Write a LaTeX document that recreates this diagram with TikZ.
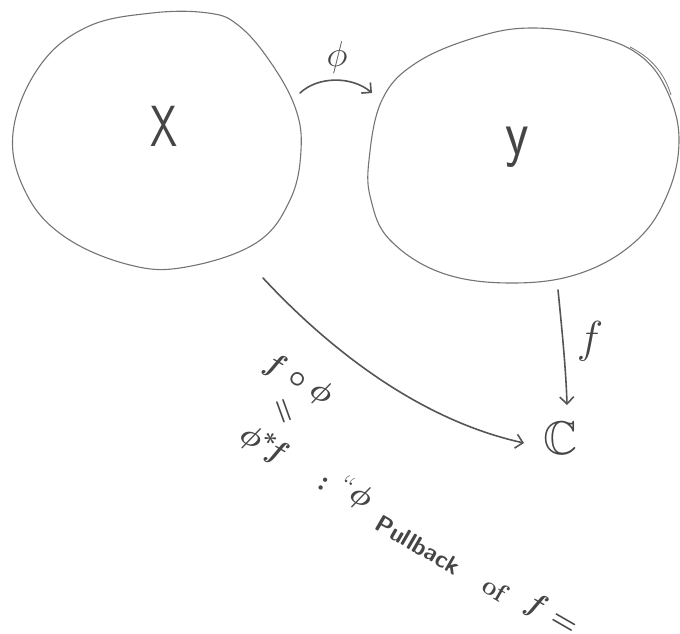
\documentclass[tikz,border=0pt]{standalone}
\usepackage{amssymb}
\usetikzlibrary{arrows.meta}
\definecolor{circgray}{HTML}{747474}
\definecolor{arrgray}{HTML}{555555}
\definecolor{inkgray}{HTML}{454545}
\begin{document}
\begin{tikzpicture}[x=1pt,y=-1pt,
  blob/.style={draw=circgray, line width=1.1pt},
  arr/.style={draw=arrgray, line width=1.6pt, line cap=round,
    -{Straight Barb[length=7pt,width=14pt,line width=1.6pt]}},
  lbl/.style={text=inkgray, inner sep=0pt},
  mth/.style={lbl, font=\fontsize{24.88}{26}\selectfont},
  diag/.style={mth, font=\fontsize{24.88}{26}\selectfont\boldmath, rotate=-30, scale=1.2}]
\useasboundingbox (0,0) rectangle (680,633);
% set X
\draw[blob] plot[smooth cycle, tension=0.65] coordinates {
  (13,133) (39,67) (87,27) (152,13) (208,13) (238,25) (269,60) (295,107)
  (301,150) (290,200) (256,243) (186,267) (130,265) (65,237) (26,193)};
% set Y
\draw[blob] plot[smooth cycle, tension=0.65] coordinates {
  (369,160) (382,100) (416,63) (477,37) (533,28) (598,37) (642,57) (668,93)
  (679,140) (668,193) (637,240) (581,273) (512,283) (442,273) (390,240) (371,200)};
\draw[blob, line width=0.8pt] (630,47) .. controls (650,57) and (664,72) .. (671,95);
% labels
\node[lbl, font=\sffamily\fontsize{58}{58}\selectfont, xscale=0.75] (X) at (164,126) {X};
\node[lbl, font=\sffamily\fontsize{64}{64}\selectfont, xscale=0.85] (Y) at (517,147) {y};
\node[mth, scale=1.45] (phi) at (337,57) {$\phi$};
\node[mth, scale=1.8] (f) at (590,341) {$f$};
\node[mth, scale=1.9] (C) at (561,438) {$\mathbb{C}$};
% connector ends
\coordinate (phiS) at (300,93);
\coordinate (phiE) at (372,93);
\coordinate (fS) at (558,290);
\coordinate (fE) at (567,405);
\coordinate (cS) at (263,278);
\coordinate (cE) at (524,443);
\draw[arr] (phiS) .. controls (318,76) and (352,76) .. (phiE);
\draw[arr] (fS) .. controls (562,330) and (566,370) .. (fE);
\draw[arr] (cS) .. controls (330,350) and (420,420) .. (cE);
% diagonal annotation
\node[diag] (comp) at (298,380) {$f\circ\phi$};
\node[diag, rotate=-40] (eqA) at (282,412) {$=$};
\node[diag] (pull) at (264,445) {$\phi^{*}\!f$};
\node[diag] (defs) at (323,484) {$:$};
\node[diag] (qphi) at (355,494) {``$\phi$};
\node[lbl, rotate=-30, font=\sffamily\bfseries\fontsize{24}{24}\selectfont] (word) at (418,545) {Pullback};
\node[lbl, rotate=-30, font=\bfseries\fontsize{26}{26}\selectfont] (of) at (495,589) {of};
\node[diag] (feq) at (551,615) {$f =$};
\end{tikzpicture}
\end{document}
